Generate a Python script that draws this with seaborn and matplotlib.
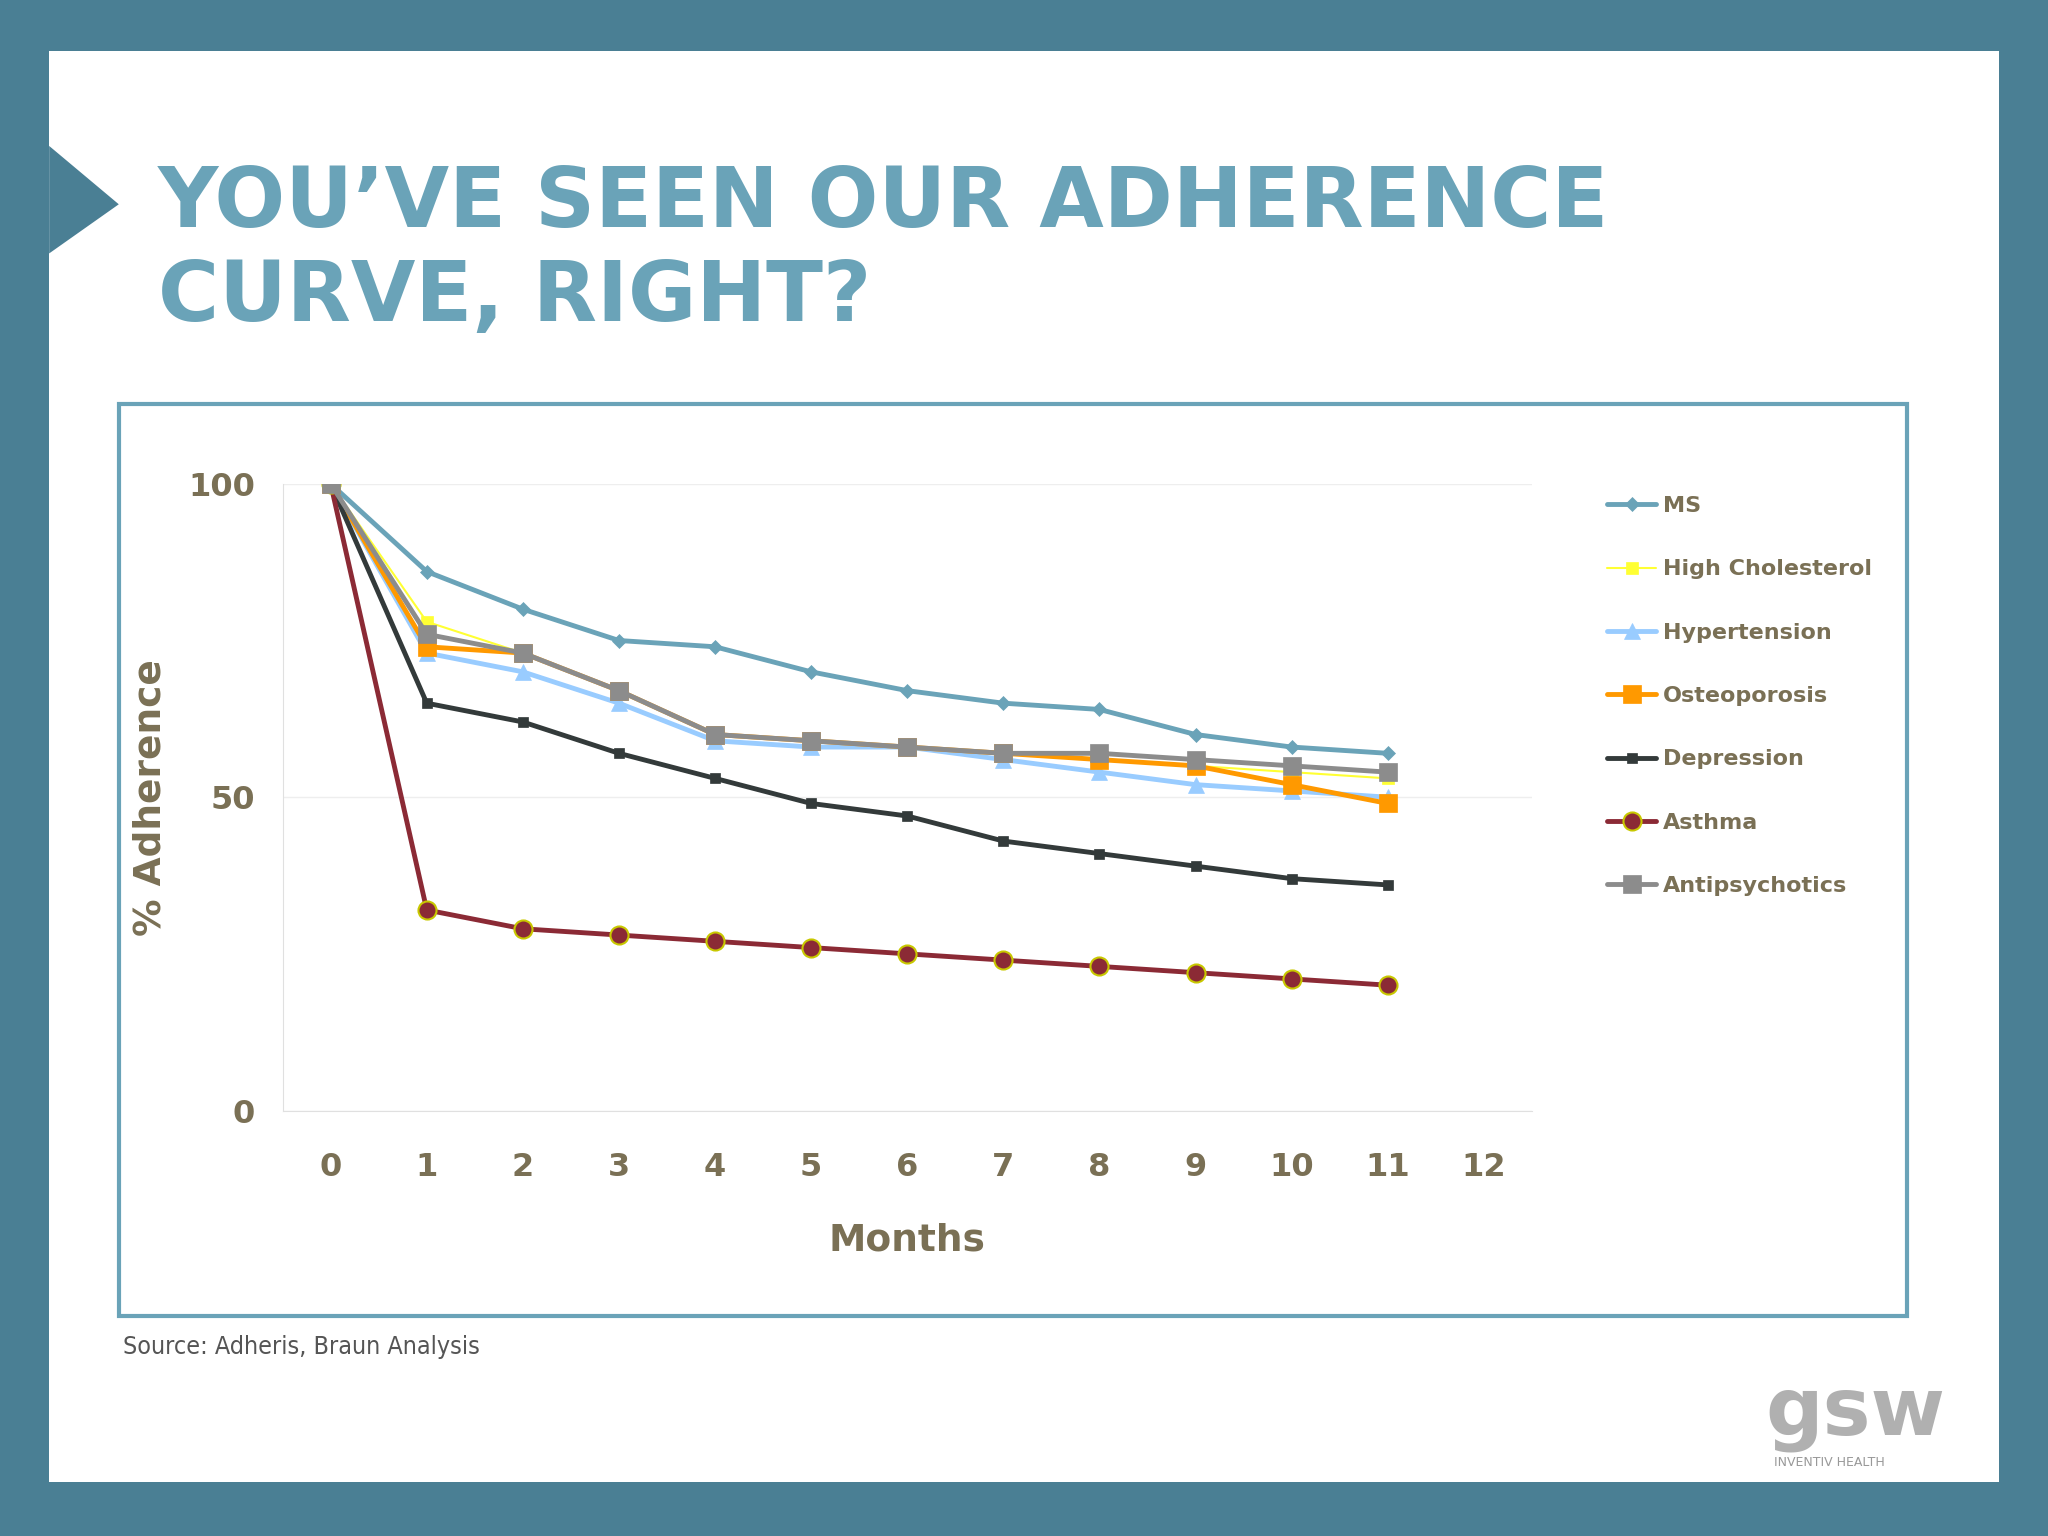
import pandas as pd
import matplotlib.pyplot as plt
import matplotlib.patches as mpatches
import seaborn as sns

# Data
months = list(range(12))
ms = [100, 86, 80, 75, 74, 70, 67, 65, 64, 60, 58, 57]
high_chol = [100, 78, 73, 67, 60, 59, 58, 57, 56, 55, 54, 53]
hypertension = [100, 73, 70, 65, 59, 58, 58, 56, 54, 52, 51, 50]
osteoporosis = [100, 74, 73, 67, 60, 59, 58, 57, 56, 55, 52, 49]
depression = [100, 65, 62, 57, 53, 49, 47, 43, 41, 39, 37, 36]
asthma = [100, 32, 29, 28, 27, 26, 25, 24, 23, 22, 21, 20]
antipsychotics = [100, 76, 73, 67, 60, 59, 58, 57, 57, 56, 55, 54]

series = {
    'MS': ms, 'High Cholesterol': high_chol, 'Hypertension': hypertension,
    'Osteoporosis': osteoporosis, 'Depression': depression,
    'Asthma': asthma, 'Antipsychotics': antipsychotics,
}
styles = {
    'MS': dict(color='#6aa3b8', marker='D', markersize=7, linewidth=3.5),
    'High Cholesterol': dict(color='#ffff33', marker='s', markersize=9, linewidth=1.5),
    'Hypertension': dict(color='#99ccff', marker='^', markersize=11, linewidth=3.5),
    'Osteoporosis': dict(color='#ff9900', marker='s', markersize=13, linewidth=3.5),
    'Depression': dict(color='#333a3a', marker='s', markersize=7, linewidth=3.5),
    'Asthma': dict(color='#8b2a35', marker='o', markersize=13, linewidth=3.5,
                   markeredgecolor='#c8c800', markeredgewidth=1.5),
    'Antipsychotics': dict(color='#8c8c8c', marker='s', markersize=13, linewidth=3.5),
}

df = pd.DataFrame([(name, m, v) for name, vals in series.items() for m, v in zip(months, vals)],
                  columns=['series', 'month', 'value'])

sns.set_style('white')
plt.rcParams['font.family'] = ['DejaVu Sans']
text_col = '#7a7055'

fig = plt.figure(figsize=(20.48, 15.36), dpi=100)
fig.patch.set_facecolor('#4a7f94')
# white slide panel
fig.patches.append(mpatches.Rectangle((0.024, 0.035), 0.952, 0.932, transform=fig.transFigure,
                                      facecolor='white', edgecolor='none', zorder=0))
fig.patches.append(mpatches.Polygon([(0.024, 0.905), (0.058, 0.867), (0.024, 0.835)],
                                    closed=True, transform=fig.transFigure,
                                    facecolor='#4a7f94', edgecolor='none', zorder=1))
# chart frame
fig.patches.append(mpatches.Rectangle((0.058, 0.143), 0.873, 0.594, transform=fig.transFigure,
                                      facecolor='none', edgecolor='#6aa3b8', linewidth=3, zorder=1))

fig.text(0.077, 0.78, "YOU\u2019VE SEEN OUR ADHERENCE\nCURVE, RIGHT?", fontsize=60,
         fontweight='bold', color='#6aa3b8', linespacing=1.2, va='bottom', ha='left')
fig.text(0.06, 0.123, 'Source: Adheris, Braun Analysis', fontsize=18, color='#555555',
         va='center', ha='left', stretch='condensed')
fig.text(0.862, 0.08, 'gsw', fontsize=58, color='#b0b0b0', fontweight='bold', va='center')
fig.text(0.866, 0.048, 'INVENTIV HEALTH', fontsize=9, color='#999999', va='center')

ax = fig.add_axes([0.138, 0.277, 0.61, 0.408], zorder=5)
ax.set_facecolor('white')
for name in series:
    st = styles[name]
    sns.lineplot(data=df[df['series'] == name], x='month', y='value', ax=ax, label=name,
                 color=st['color'], marker=st['marker'], markersize=st['markersize'],
                 linewidth=st['linewidth'], markeredgecolor=st.get('markeredgecolor', st['color']),
                 markeredgewidth=st.get('markeredgewidth', 0.5), zorder=3)

ax.set_xlim(-0.5, 12.5)
ax.set_ylim(0, 100)
ax.set_xticks(range(13))
ax.set_yticks([0, 50, 100])
ax.yaxis.grid(True, color='#eeeeee', linewidth=1)
ax.set_xlabel('Months', fontsize=27, fontweight='bold', color=text_col, labelpad=28)
ax.set_ylabel('% Adherence', fontsize=27, fontweight='bold', color=text_col, labelpad=14)
ax.tick_params(axis='x', labelsize=23, labelcolor=text_col, length=0, pad=30)
ax.tick_params(axis='y', labelsize=23, labelcolor=text_col, length=0, pad=20)
for t in ax.get_xticklabels() + ax.get_yticklabels():
    t.set_fontweight('bold')
for s in ['top', 'right']:
    ax.spines[s].set_visible(False)
ax.spines['left'].set_color('#e0e0e0')
ax.spines['bottom'].set_color('#e0e0e0')

handles, labels = ax.get_legend_handles_labels()
ax.legend_.remove()
leg = fig.legend(handles, labels, loc='upper left', bbox_to_anchor=(0.775, 0.69), frameon=False,
                 labelspacing=1.95, handlelength=2.2, handletextpad=0.3,
                 prop={'size': 16, 'weight': 'bold'})
for t in leg.get_texts():
    t.set_color(text_col)

fig.savefig('out.png', dpi=100, facecolor=fig.get_facecolor())
